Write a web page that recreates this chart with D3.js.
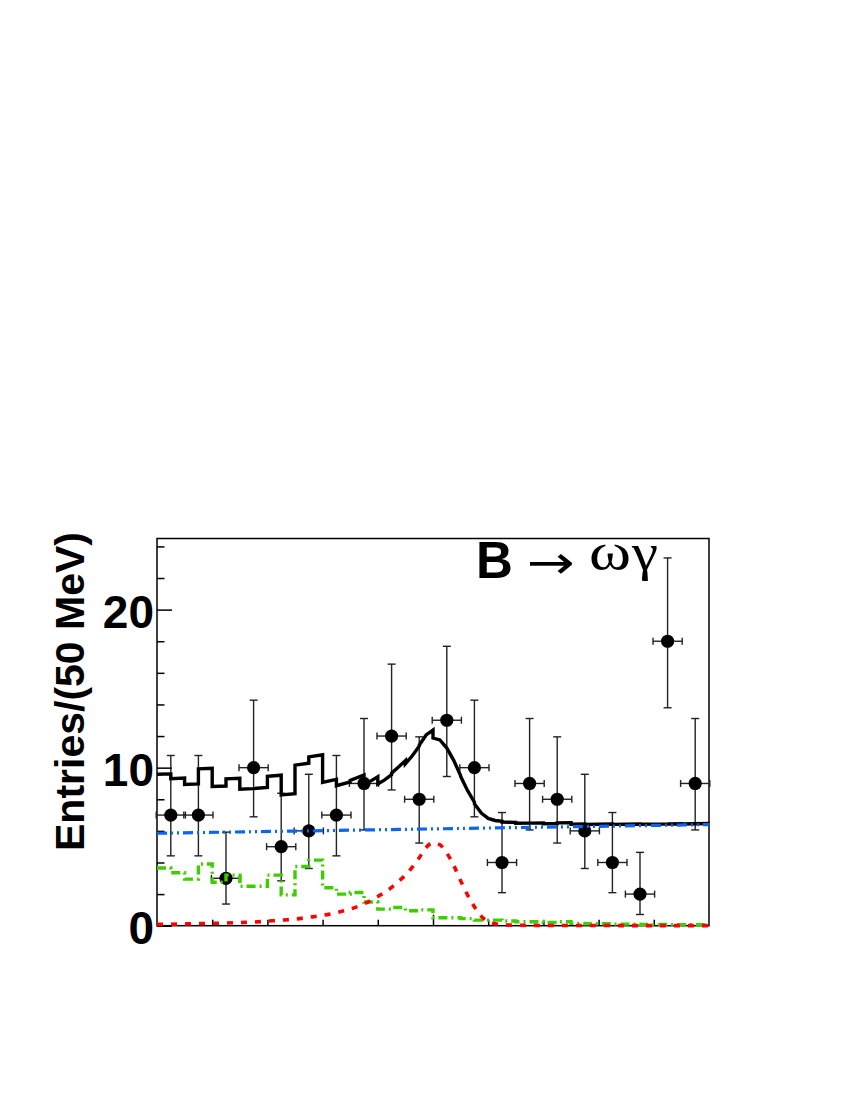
<!DOCTYPE html>
<html>
<head>
<meta charset="utf-8">
<script src="https://cdn.jsdelivr.net/npm/d3@7"></script>
<style>
  html, body { margin: 0; padding: 0; background: #fff; }
  svg { display: block; }
</style>
</head>
<body>
<svg id="chart" width="850" height="1100"></svg>
<script>
// ---------------- data ----------------
// Data points: bin centres (GeV, Delta E), entries, Garwood 68% interval bounds
const binCenters = [-0.475,-0.425,-0.375,-0.325,-0.275,-0.225,-0.175,-0.125,-0.075,-0.025,
                     0.025, 0.075, 0.125, 0.175, 0.225, 0.275, 0.325, 0.375, 0.425, 0.475];
const counts     = [7, 7, 3, 10, 5, 6, 7, 9, 12, 8, 13, 10, 4, 9, 8, 6, 4, 2, 18, 9];
const errLowBound  = [4.42,4.42,1.37,6.89,2.84,3.62,4.42,6.06,8.59,5.23,9.44,6.89,2.09,6.06,5.23,3.62,2.09,0.71,13.79,6.06];
const errHighBound = [10.77,10.77,5.92,14.27,8.38,9.58,10.77,13.11,16.55,11.95,17.68,14.27,7.16,13.11,11.95,9.58,7.16,4.64,23.27,13.11];

// Combinatorial background (blue dash-dot-dot line): value at both ends
const bkgX = [-0.5, 0.5];
const bkgY = [5.85, 6.4];

// Peaking B background (green histogram), 40 bins of 25 MeV from -0.5 to 0.5
const peakEdgesStart = -0.5;
const peakBinWidth = 0.025;
const peakVals = [3.65,3.35,2.95,3.9,2.75,3.2,2.5,2.5,3.2,1.95,
                  3.75,4.15,2.4,2.0,2.1,1.5,1.05,1.15,0.95,1.0,
                  0.5,0.5,0.45,0.35,0.35,0.3,0.25,0.25,0.2,0.25,
                  0.15,0.12,0.12,0.1,0.1,0.08,0.08,0.07,0.06,0.06];

// Signal shape (red dashed)
const sigX = [-0.5,-0.475,-0.45,-0.425,-0.4,-0.375,-0.35,-0.325,-0.3,-0.275,-0.25,-0.225,-0.2,-0.175,-0.15,
              -0.125,-0.1125,-0.1,-0.0875,-0.075,-0.0625,-0.05,-0.0375,-0.025,-0.0125,0,0.0125,0.025,0.0375,
              0.05,0.0625,0.075,0.0875,0.1,0.1125,0.125,0.15,0.175,0.2,0.225,0.25,0.275,0.3,0.325,0.35,0.375,
              0.4,0.425,0.45,0.475,0.5];
const sigY = [0.08,0.09,0.11,0.13,0.15,0.17,0.2,0.23,0.29,0.35,0.42,0.53,0.65,0.83,1.05,
              1.38,1.6,1.85,2.1,2.42,2.8,3.2,3.7,4.3,4.95,5.25,5.12,4.6,3.82,
              2.85,1.95,1.2,0.6,0.26,0.12,0.06,0.03,0.02,0.015,0.01,0.01,0.01,0.01,0.01,0.005,0.005,
              0.005,0.005,0.005,0.005,0.005];

const yTickLabels = ["0", "10", "20"];
const yTickValues = [0, 10, 20];
const yTitle = "Entries/(50 MeV)";

// ---------------- layout ----------------
const svg = d3.select("#chart");
const L = 157, R = 709, T = 538.5, B = 925.7;
const x = d3.scaleLinear().domain([-0.5, 0.5]).range([L, R]);
const y = d3.scaleLinear().domain([0, 24.5]).range([B, T]);
const sans = "'Liberation Sans', Arial, Helvetica, sans-serif";
const serif = "'Liberation Serif', 'Times New Roman', Times, serif";

// frame
svg.append("rect").attr("x", L).attr("y", T).attr("width", R - L).attr("height", B - T)
  .attr("fill", "none").attr("stroke", "#000").attr("stroke-width", 1.5);

// y axis ticks (inward)
const yAxis = d3.axisRight(y).tickValues(d3.range(0, 25, 2)).tickFormat("")
  .tickSize(0).tickSizeOuter(0);
const yAx = svg.append("g").attr("transform", `translate(${L},0)`).call(yAxis);
yAx.select(".domain").remove();
yAx.selectAll(".tick line").attr("x2", d => (d % 10 === 0 ? 15 : 7.5))
  .attr("stroke", "#000").attr("stroke-width", 1.5);

// x axis ticks (inward, pointing up)
const xAxis = d3.axisTop(x).tickValues(d3.range(-4, 5).map(v => v / 10)).tickFormat("").tickSize(0).tickSizeOuter(0);
const xAx = svg.append("g").attr("transform", `translate(0,${B})`).call(xAxis);
xAx.select(".domain").remove();
xAx.selectAll(".tick line").attr("y2", d => (Math.abs(d) < 1e-9 ? -11 : -6))
  .attr("stroke", "#000").attr("stroke-width", 1.5);

// y tick labels
svg.append("g").selectAll("text").data(yTickValues).join("text")
  .attr("x", 154).attr("y", d => y(d) + 18)
  .attr("text-anchor", "end")
  .attr("font-family", sans).attr("font-weight", "bold").attr("font-size", 46)
  .text((d, i) => yTickLabels[i]);

// y title
svg.append("text")
  .attr("transform", `translate(84,${(533 + 850) / 2}) rotate(-90)`)
  .attr("text-anchor", "middle")
  .attr("font-family", sans).attr("font-weight", "bold").attr("font-size", 41)
  .text(yTitle);

// ---------------- data points ----------------
const halfBin = 0.025;
const pts = svg.append("g");
counts.forEach((c, i) => {
  const cx = x(binCenters[i]), cy = y(c);
  const g = pts.append("g").attr("stroke", "#222").attr("stroke-width", 1.4);
  g.append("line").attr("x1", cx).attr("x2", cx).attr("y1", y(errLowBound[i])).attr("y2", y(errHighBound[i]));
  g.append("line").attr("x1", cx - 4).attr("x2", cx + 4).attr("y1", y(errLowBound[i])).attr("y2", y(errLowBound[i]));
  g.append("line").attr("x1", cx - 4).attr("x2", cx + 4).attr("y1", y(errHighBound[i])).attr("y2", y(errHighBound[i]));
  const xl = x(binCenters[i] - halfBin) - 0.8, xr = x(binCenters[i] + halfBin) + 0.8;
  g.append("line").attr("x1", xl).attr("x2", xr).attr("y1", cy).attr("y2", cy);
  g.append("line").attr("x1", xl).attr("x2", xl).attr("y1", cy - 3.5).attr("y2", cy + 3.5);
  g.append("line").attr("x1", xr).attr("x2", xr).attr("y1", cy - 3.5).attr("y2", cy + 3.5);
  pts.append("circle").attr("cx", cx).attr("cy", cy).attr("r", 6.6).attr("fill", "#000");
});

// ---------------- curves ----------------
const bkgAt = v => bkgY[0] + (bkgY[1] - bkgY[0]) * (v - bkgX[0]) / (bkgX[1] - bkgX[0]);

// total = combinatorial + peaking + signal
const totalPts = [];
peakVals.forEach((pv, i) => {
  const a = peakEdgesStart + i * peakBinWidth, b = a + peakBinWidth;
  sigX.forEach((sx, k) => {
    if (sx >= a - 1e-9 && sx <= b + 1e-9) totalPts.push([sx, bkgAt(sx) + pv + sigY[k]]);
  });
});
const lineXY = d3.line().x(d => x(d[0])).y(d => y(d[1]));
svg.append("path").attr("d", lineXY(totalPts))
  .attr("fill", "none").attr("stroke", "#000").attr("stroke-width", 3.4).attr("stroke-linejoin", "miter");

// peaking background histogram (green)
const peakPts = [];
peakVals.forEach((pv, i) => {
  const a = peakEdgesStart + i * peakBinWidth;
  peakPts.push([a, pv], [a + peakBinWidth, pv]);
});
svg.append("path").attr("d", lineXY(peakPts))
  .attr("fill", "none").attr("stroke", "#3fcc00").attr("stroke-width", 3.4)
  .attr("stroke-dasharray", "9,4,2,4");

// signal (red)
const sigLine = d3.line().x((d, i) => x(sigX[i])).y((d, i) => y(sigY[i])).curve(d3.curveMonotoneX);
svg.append("path").attr("d", sigLine(sigY))
  .attr("fill", "none").attr("stroke", "#ff0000").attr("stroke-width", 3.6)
  .attr("stroke-dasharray", "6,8");

// combinatorial (blue)
svg.append("path").attr("d", lineXY(bkgX.map((v, i) => [v, bkgY[i]])))
  .attr("fill", "none").attr("stroke", "#0a64f5").attr("stroke-width", 3.2)
  .attr("stroke-dasharray", "10,4,2,4,2,4");

// ---------------- label ----------------
svg.append("text").attr("x", 476).attr("y", 578)
  .attr("font-family", sans).attr("font-weight", "bold").attr("font-size", 51).text("B");
svg.append("text").attr("x", 527).attr("y", 577.5)
  .attr("font-family", "'DejaVu Sans', sans-serif").attr("font-size", 46)
  .attr("textLength", 48).attr("lengthAdjust", "spacingAndGlyphs").text("→");
svg.append("text").attr("x", 589).attr("y", 569)
  .attr("font-family", serif).attr("font-size", 52)
  .attr("textLength", 42).attr("lengthAdjust", "spacingAndGlyphs").text("ω");
svg.append("text").attr("x", 632).attr("y", 570)
  .attr("font-family", serif).attr("font-size", 52)
  .attr("textLength", 26).attr("lengthAdjust", "spacingAndGlyphs").text("γ");
</script>
</body>
</html>
